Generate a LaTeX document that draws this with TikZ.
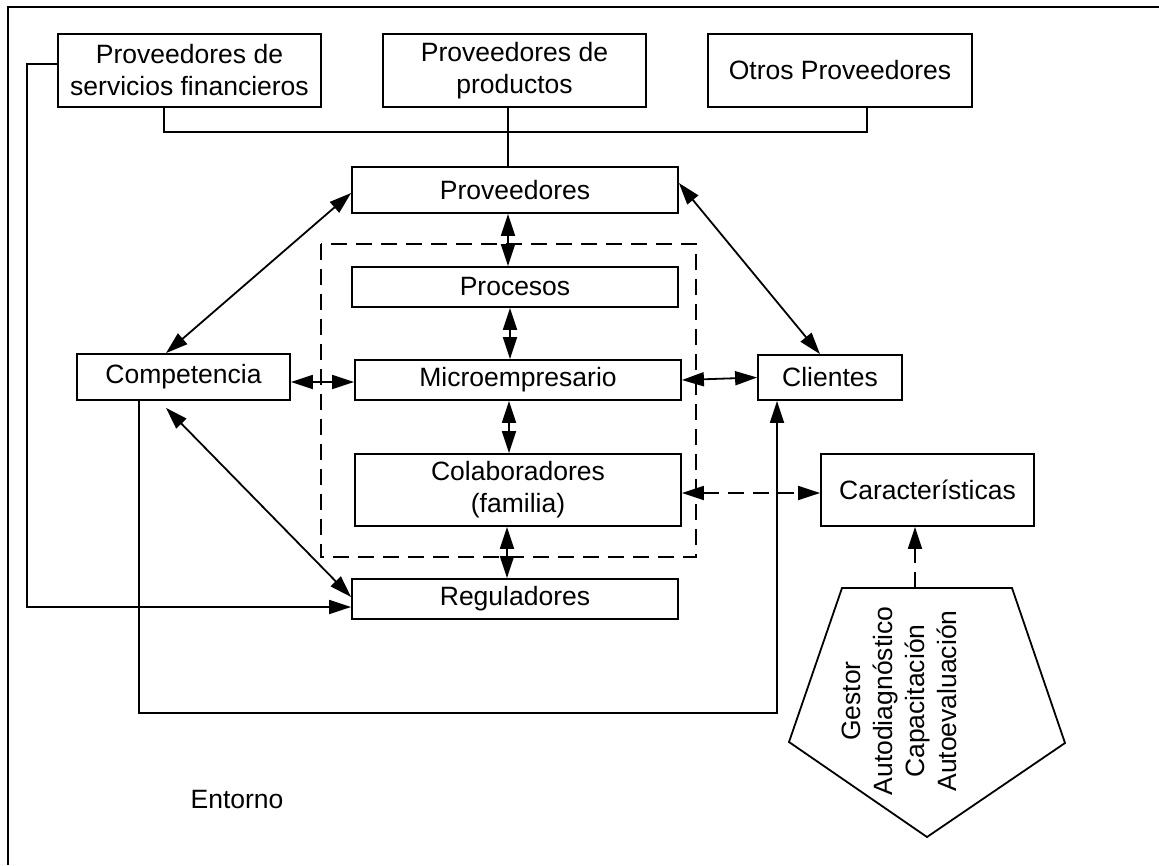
\documentclass[tikz,border=0pt]{standalone}
\usepackage{fontspec}
\setmainfont{Liberation Sans}
\usetikzlibrary{arrows.meta}

\tikzset{
  box/.style={draw, line width=1.8pt, inner sep=0pt, align=center},
  wire/.style={line width=1.8pt},
  tip/.tip={Triangle[length=22pt,width=14pt]},
  onearrow/.style={wire, -tip},
  twoarrow/.style={wire, tip-tip},
  dashline/.style={dash pattern=on 16pt off 9pt},
}

\begin{document}
\begin{tikzpicture}[x=1pt, y=-1pt,
  every node/.style={font=\fontsize{26.5}{32}\selectfont}]
\useasboundingbox (0,0) rectangle (1159,865);

% frame of the environment
\draw[wire] (1159,7) -- (8,7) -- (8,865);

% suppliers row
\node[box, minimum width=263pt, minimum height=73pt] (psf) at (189.5,70.5)
  {Proveedores de\\servicios financieros};
\node[box, minimum width=263pt, minimum height=73pt] (pp) at (514.5,70.5)
  {Proveedores de\\productos};
\node[box, minimum width=264pt, minimum height=73pt] (otros) at (840,70.5)
  {Otros Proveedores};

% central boxes
\node[box, minimum width=326pt, minimum height=46pt] (prov) at (515,190) {Proveedores};
\node[box, minimum width=326pt, minimum height=40pt] (proc) at (515,287) {Procesos};
\node[box, minimum width=326pt, minimum height=40pt] (micro) at (518,380) {Microempresario};
\node[box, minimum width=326pt, minimum height=72pt] (colab) at (518,490)
  {Colaboradores\\(familia)};
\node[box, minimum width=326pt, minimum height=40pt] (reg) at (515,599) {Reguladores};

% company boundary
\draw[wire, dashline] (321,244) rectangle (696,557);

% side boxes
\node[box, minimum width=213pt, minimum height=46pt] (comp) at (183.5,377) {Competencia};
\node[box, minimum width=144pt, minimum height=45pt] (cli) at (830,377.5) {Clientes};
\node[box, minimum width=213pt, minimum height=72pt] (car) at (927.5,490) {Características};

% pentagon of tools
\draw[wire] (842,588) -- (1012,588) -- (1065,743) -- (927,837) -- (789,742) -- cycle;
\coordinate (penttop) at (915,588);
\node[rotate=90, align=center] (tools) at (899,701)
  {Gestor\\Autodiagnóstico\\Capacitación\\Autoevaluación};

\node (entorno) at (237,800) {Entorno};

% supplier bus
\draw[wire] ([xshift=-25.5pt]psf.south) -- ++(0,24) -| ([xshift=27pt]otros.south);
\draw[wire] ([xshift=-6.5pt]pp.south) -- ([xshift=-6.5pt]pp.south |- prov.north);

% vertical links inside the company
\draw[twoarrow] ([xshift=-7pt]prov.south) -- ([xshift=-7pt]proc.north);
\draw[twoarrow] ([xshift=-5pt]proc.south) -- ([xshift=-8pt]micro.north);
\draw[twoarrow] ([xshift=-9pt]micro.south) -- ([xshift=-9pt]colab.north);
\draw[twoarrow] ([xshift=-11pt]colab.south) -- ([xshift=-8pt]reg.north);

% diagonal links
\draw[twoarrow] ([xshift=-17.5pt]comp.north) -- ([yshift=-3pt]prov.west);
\draw[twoarrow] ([yshift=7pt]prov.east) -- ([xshift=-10pt]cli.north);
\draw[twoarrow] ([xshift=-17.5pt,yshift=-7pt]comp.south) -- ([yshift=2pt]reg.west);

% horizontal links
\draw[twoarrow] ([yshift=-5pt]comp.east) -- ([yshift=-2pt]micro.west);
\draw[twoarrow] (micro.east) -- (cli.west);
\draw[twoarrow, dashline] ([yshift=-3pt]colab.east) -- ([yshift=-3pt]car.west);
\draw[onearrow, dashline] (penttop) -- (penttop |- car.south);

% long loops
\draw[onearrow] ([yshift=6.5pt]psf.west) -- ++(-30,0) |- ([yshift=-8pt]reg.west);
\draw[onearrow] ([xshift=-44.5pt]comp.south) -- ++(0,312) -| ([xshift=-53pt]cli.south);
\end{tikzpicture}
\end{document}
